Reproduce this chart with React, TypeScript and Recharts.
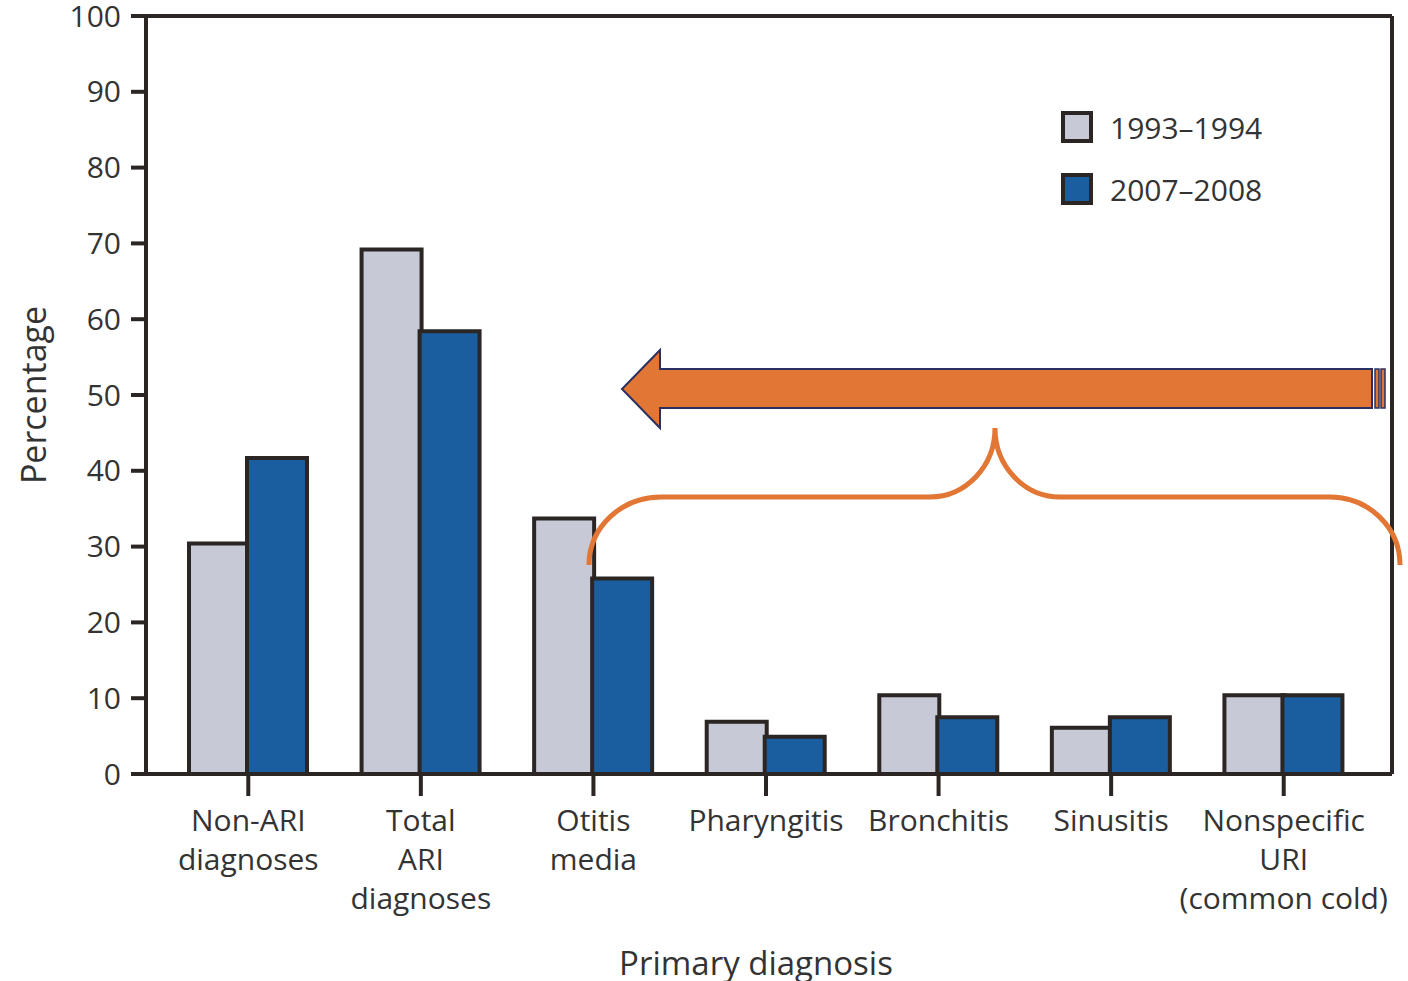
import { BarChart, Bar, XAxis, YAxis, Legend } from "recharts";

const categories = [
  "Non-ARI\ndiagnoses",
  "Total\nARI\ndiagnoses",
  "Otitis\nmedia",
  "Pharyngitis",
  "Bronchitis",
  "Sinusitis",
  "Nonspecific\nURI\n(common cold)",
];
const seriesNames = ["1993\u20131994", "2007\u20132008"];
const values1993 = [30.4, 69.2, 33.7, 6.9, 10.4, 6.1, 10.4];
const values2007 = [41.7, 58.4, 25.8, 4.9, 7.5, 7.5, 10.4];
const yTicks = [0, 10, 20, 30, 40, 50, 60, 70, 80, 90, 100];

const FONT = "'Open Sans', sans-serif";
const INK = "#2b2624";
const TEXT = "#333";
const GRAY = "#c7c9d7";
const BLUE = "#1b5e9f";
const ORANGE = "#e27635";
const NAVY = "#2b3060";

const data = categories.map((c, i) => ({
  name: c,
  a: values1993[i],
  b: values2007[i],
}));

function CategoryTick(props: any) {
  const { x, y, payload } = props;
  const lines = String(payload.value).split("\n");
  return (
    <text
      x={x}
      y={y}
      textAnchor="middle"
      fontFamily={FONT}
      fontSize={30}
      fill={TEXT}
    >
      {lines.map((l, i) => (
        <tspan key={i} x={x} dy={i === 0 ? 33 : 39}>
          {l}
        </tspan>
      ))}
    </text>
  );
}

function LegendBox() {
  const fills = [GRAY, BLUE];
  return (
    <div style={{ fontFamily: FONT, fontSize: 30, color: TEXT }}>
      {seriesNames.map((n, i) => (
        <div
          key={n}
          style={{ display: "flex", alignItems: "center", height: 62 }}
        >
          <div
            style={{
              width: 24,
              height: 24,
              border: `4px solid ${INK}`,
              background: fills[i],
              marginRight: 17,
            }}
          />
          <span>{n}</span>
        </div>
      ))}
    </div>
  );
}

export default function App() {
  return (
    <div style={{ position: "absolute", left: 0, top: 0, width: 1408, height: 981 }}>
      <BarChart
        width={1408}
        height={981}
        data={data}
        margin={{ top: 15, right: 15, bottom: 0, left: 0 }}
        barGap={-2}
        barSize={60}
      >
        <XAxis
          dataKey="name"
          interval={0}
          height={207}
          padding={{ left: 16, right: 22 }}
          axisLine={{ stroke: INK, strokeWidth: 4 }}
          tickLine={{ stroke: INK, strokeWidth: 4 }}
          tickSize={22}
          tick={<CategoryTick />}
          label={{
            value: "Primary diagnosis",
            position: "insideBottom",
            offset: 6,
            fontFamily: FONT,
            fontSize: 33,
            fill: TEXT,
            dx: -13,
          }}
        />
        <XAxis
          xAxisId="top"
          dataKey="name"
          orientation="top"
          height={1}
          tick={false}
          tickLine={false}
          axisLine={{ stroke: INK, strokeWidth: 4 }}
        />
        <YAxis
          width={146}
          domain={[0, 100]}
          ticks={yTicks}
          interval={0}
          tickSize={15}
          tickMargin={10}
          axisLine={{ stroke: INK, strokeWidth: 4 }}
          tickLine={{ stroke: INK, strokeWidth: 4 }}
          tick={{ fontFamily: FONT, fontSize: 30, fill: TEXT }}
          label={{
            value: "Percentage",
            angle: -90,
            position: "insideLeft",
            offset: 34,
            fontFamily: FONT,
            fontSize: 34,
            fill: TEXT,
            style: { textAnchor: "middle" },
          }}
        />
        <YAxis
          yAxisId="right"
          orientation="right"
          width={1}
          domain={[0, 100]}
          tick={false}
          tickLine={false}
          axisLine={{ stroke: INK, strokeWidth: 4 }}
        />
        <Legend
          layout="horizontal"
          verticalAlign="middle"
          content={() => <LegendBox />}
          wrapperStyle={{ top: 96, left: 1061, width: 260, height: 130 }}
        />
        <Bar
          dataKey="a"
          name={seriesNames[0]}
          fill={GRAY}
          stroke={INK}
          strokeWidth={4}
          isAnimationActive={false}
        />
        <Bar
          dataKey="b"
          name={seriesNames[1]}
          fill={BLUE}
          stroke={INK}
          strokeWidth={4}
          isAnimationActive={false}
        />
      </BarChart>
      <svg
        width={1408}
        height={981}
        style={{ position: "absolute", left: 0, top: 0, pointerEvents: "none" }}
      >
        <polygon
          points="1372,369 660,369 660,350 622,389 660,428 660,408 1372,408"
          fill={ORANGE}
          stroke={NAVY}
          strokeWidth={2}
        />
        <rect x={1375} y={369} width={4} height={39} fill={ORANGE} stroke={NAVY} strokeWidth={1.5} />
        <rect x={1381} y={369} width={4} height={39} fill={ORANGE} stroke={NAVY} strokeWidth={1.5} />
        <path
          d="M589,565 A72,68 0 0 1 661,497 L930,497 A65,69 0 0 0 995,428 A65,69 0 0 0 1060,497 L1330,497 A70,68 0 0 1 1400,565"
          fill="none"
          stroke={ORANGE}
          strokeWidth={5}
        />
      </svg>
    </div>
  );
}
